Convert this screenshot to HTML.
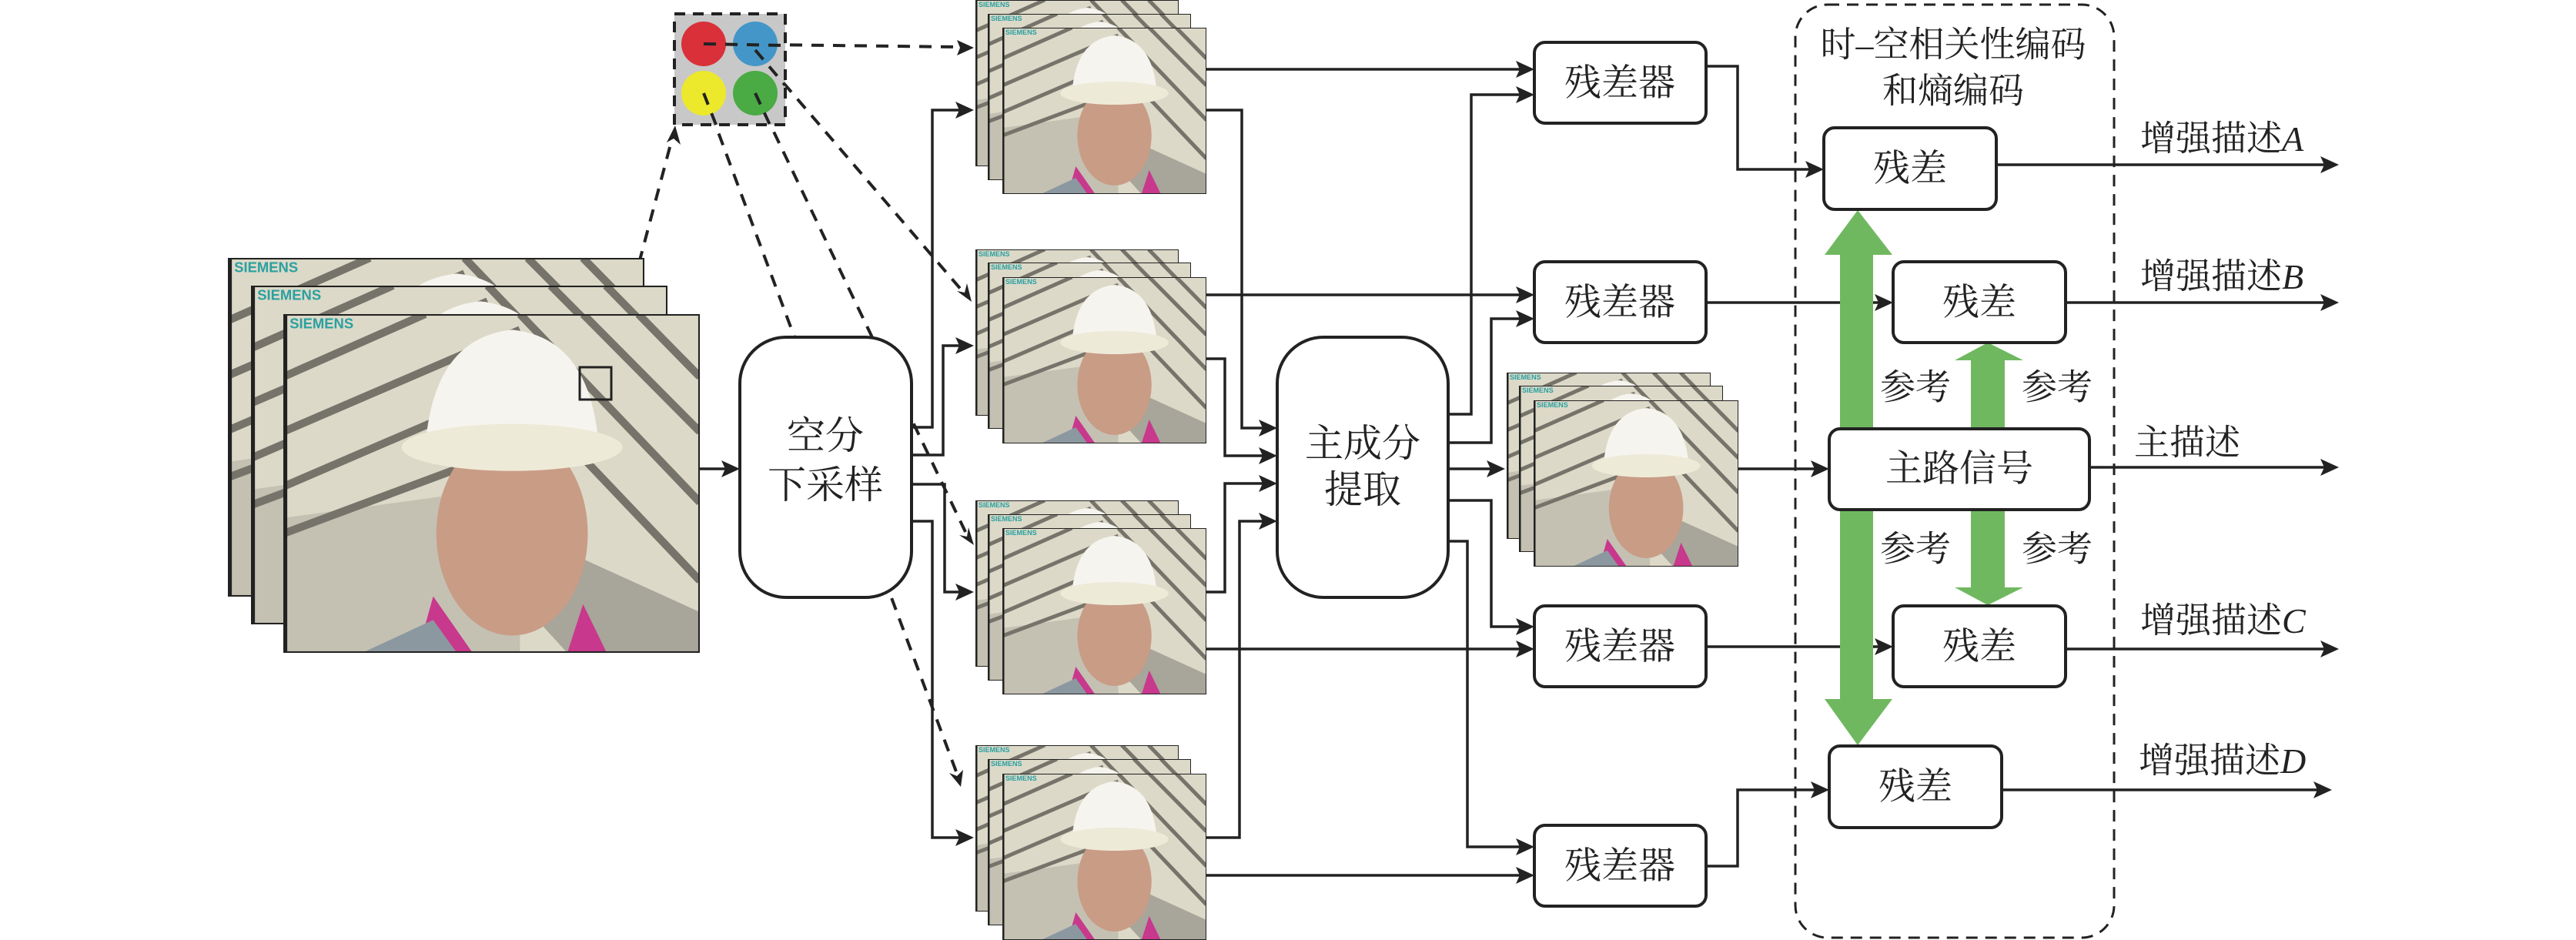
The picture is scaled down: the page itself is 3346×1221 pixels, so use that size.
<!DOCTYPE html>
<html><head><meta charset="utf-8"><style>
html,body{margin:0;padding:0;background:#fff;}
svg{display:block;}
text{font-family:"Liberation Serif","Noto Serif CJK SC",serif;fill:#222;}
</style></head><body>
<svg width="3346" height="1221" viewBox="0 0 3346 1221" xmlns="http://www.w3.org/2000/svg">
<defs>
<symbol id="fr" viewBox="0 0 264 216" preserveAspectRatio="none">
<rect x="0" y="0" width="264" height="216" fill="#dcd9c8"/>
<polygon points="0,130 0,216 150,216 150,150 110,115" fill="#c4c1b3"/>
<polygon points="100,115 264,190 264,216 180,216 120,150" fill="#a8a59a"/>
<g stroke="#76746a" stroke-width="5" fill="none">
<line x1="0" y1="40" x2="90" y2="0"/>
<line x1="0" y1="75" x2="150" y2="10"/>
<line x1="0" y1="110" x2="150" y2="45"/>
<line x1="0" y1="140" x2="120" y2="95"/>
<line x1="150" y1="0" x2="264" y2="120"/>
<line x1="190" y1="0" x2="264" y2="75"/>
<line x1="225" y1="0" x2="264" y2="40"/>
<line x1="160" y1="60" x2="264" y2="170"/>
</g>
<polygon points="95,180 120,216 85,216" fill="#c8388c"/>
<polygon points="190,185 180,216 205,216" fill="#c8388c"/>
<polygon points="50,216 95,195 110,216" fill="#8c98a0"/>
<ellipse cx="145" cy="140" rx="48" ry="65" fill="#c99c86"/>
<path d="M90,85 Q95,15 145,10 Q195,15 200,85 Z" fill="#f6f4ee"/>
<ellipse cx="145" cy="85" rx="70" ry="15" fill="#eeead8"/>
<text x="4" y="9" font-size="9" style="font-family:'Liberation Sans',sans-serif;fill:#2aa0a0;font-weight:bold">SIEMENS</text>
<rect x="0" y="0" width="264" height="216" fill="none" stroke="#222" stroke-width="2"/>
<line x1="1" y1="0" x2="1" y2="216" stroke="#222" stroke-width="3"/>
</symbol>
</defs>

<g stroke="#222" stroke-width="4" stroke-dasharray="16,12" fill="none">
<line x1="914" y1="57" x2="1245" y2="61"/>
<line x1="981" y1="65" x2="1250" y2="378"/>
<line x1="981" y1="121" x2="1256" y2="695"/>
<line x1="914" y1="121" x2="1243" y2="1005"/>
<line x1="794" y1="477" x2="873" y2="180"/>
</g>
<g fill="#222">
<polygon points="1265,62 1243,52 1247,62 1243,72"/>
<polygon points="1262,392 1243,378 1253,380 1256,368"/>
<polygon points="1265,708 1246,695 1256,697 1258,685"/>
<polygon points="1248,1022 1233,1004 1243,1008 1251,1000"/>
<polygon points="877,163 866,185 875,180 884,188"/>
</g>

<use href="#fr" x="296" y="335" width="541" height="440"/>
<use href="#fr" x="326" y="371" width="541" height="440"/>
<use href="#fr" x="368" y="408" width="541" height="440"/>
<rect x="753" y="477" width="41" height="42" fill="none" stroke="#222" stroke-width="3"/>

<rect x="876" y="18" width="144" height="144" fill="#c8c8c8"/>
<circle cx="914" cy="57" r="29" fill="#d9303a"/>
<circle cx="981" cy="57" r="29" fill="#4596c8"/>
<circle cx="914" cy="121" r="29" fill="#ece82c"/>
<circle cx="981" cy="121" r="29" fill="#4aaa44"/>
<rect x="876" y="18" width="144" height="144" fill="none" stroke="#222" stroke-width="4" stroke-dasharray="14,10"/>
<g stroke="#222" stroke-width="4" stroke-dasharray="16,12" fill="none">
<line x1="914" y1="57" x2="1020" y2="59"/>
<line x1="981" y1="65" x2="1020" y2="111"/>
<line x1="981" y1="121" x2="1000" y2="162"/>
<line x1="914" y1="121" x2="930" y2="162"/>
</g>

<g>
<use href="#fr" x="1267" y="0" width="264" height="216"/>
<use href="#fr" x="1283" y="18" width="264" height="216"/>
<use href="#fr" x="1302" y="36" width="265" height="216"/>
<use href="#fr" x="1267" y="324" width="264" height="216"/>
<use href="#fr" x="1283" y="341" width="264" height="216"/>
<use href="#fr" x="1302" y="360" width="265" height="216"/>
<use href="#fr" x="1267" y="650" width="264" height="216"/>
<use href="#fr" x="1283" y="668" width="264" height="216"/>
<use href="#fr" x="1302" y="686" width="265" height="216"/>
<use href="#fr" x="1267" y="968" width="264" height="216"/>
<use href="#fr" x="1283" y="986" width="264" height="216"/>
<use href="#fr" x="1302" y="1005" width="265" height="216"/>
<use href="#fr" x="1957" y="484" width="265" height="216"/>
<use href="#fr" x="1973" y="501" width="265" height="216"/>
<use href="#fr" x="1992" y="520" width="266" height="216"/>
</g>

<g stroke="#222" stroke-width="3.5" fill="none">
<line x1="909" y1="609" x2="945" y2="609"/>
<polyline points="1185,555 1211,555 1211,143 1248,143"/>
<polyline points="1185,591 1225,591 1225,449 1248,449"/>
<polyline points="1185,629 1227,629 1227,769 1248,769"/>
<polyline points="1185,677 1211,677 1211,1088 1248,1088"/>
<line x1="1567" y1="90" x2="1976" y2="90"/>
<line x1="1567" y1="383" x2="1976" y2="383"/>
<line x1="1567" y1="843" x2="1976" y2="843"/>
<line x1="1567" y1="1137" x2="1976" y2="1137"/>
<polyline points="1567,143 1613,143 1613,556 1642,556"/>
<polyline points="1567,466 1591,466 1591,592 1642,592"/>
<polyline points="1567,769 1591,769 1591,628 1642,628"/>
<polyline points="1567,1088 1610,1088 1610,677 1642,677"/>
<polyline points="1883,538 1911,538 1911,123 1976,123"/>
<polyline points="1883,575 1937,575 1937,414 1976,414"/>
<line x1="1883" y1="609" x2="1937" y2="609"/>
<polyline points="1883,650 1937,650 1937,814 1976,814"/>
<polyline points="1883,703 1906,703 1906,1100 1976,1100"/>
<polyline points="2216,86 2257,86 2257,220 2352,220"/>
<line x1="2216" y1="393" x2="2442" y2="393"/>
<line x1="2258" y1="609" x2="2359" y2="609"/>
<line x1="2216" y1="840" x2="2442" y2="840"/>
<polyline points="2216,1125 2257,1125 2257,1026 2359,1026"/>
<line x1="2593" y1="214" x2="3020" y2="214"/>
<line x1="2683" y1="393" x2="3020" y2="393"/>
<line x1="2714" y1="607" x2="3020" y2="607"/>
<line x1="2683" y1="843" x2="3020" y2="843"/>
<line x1="2600" y1="1026" x2="3011" y2="1026"/>
</g>
<g fill="#222">
<polygon points="961,609 937,598 942,609 937,620"/>
<polygon points="1265,143 1241,132 1246,143 1241,154"/>
<polygon points="1265,449 1241,438 1246,449 1241,460"/>
<polygon points="1265,769 1241,758 1246,769 1241,780"/>
<polygon points="1265,1088 1241,1077 1246,1088 1241,1099"/>
<polygon points="1659,556 1635,545 1640,556 1635,567"/>
<polygon points="1659,592 1635,581 1640,592 1635,603"/>
<polygon points="1659,628 1635,617 1640,628 1635,639"/>
<polygon points="1659,677 1635,666 1640,677 1635,688"/>
<polygon points="1993,90 1969,79 1974,90 1969,101"/>
<polygon points="1993,123 1969,112 1974,123 1969,134"/>
<polygon points="1993,383 1969,372 1974,383 1969,394"/>
<polygon points="1993,414 1969,403 1974,414 1969,425"/>
<polygon points="1993,814 1969,803 1974,814 1969,825"/>
<polygon points="1993,843 1969,832 1974,843 1969,854"/>
<polygon points="1993,1100 1969,1089 1974,1100 1969,1111"/>
<polygon points="1993,1137 1969,1126 1974,1137 1969,1148"/>
<polygon points="1955,609 1931,598 1936,609 1931,620"/>
<polygon points="2369,220 2345,209 2350,220 2345,231"/>
<polygon points="2459,393 2435,382 2440,393 2435,404"/>
<polygon points="2376,609 2352,598 2357,609 2352,620"/>
<polygon points="2459,840 2435,829 2440,840 2435,851"/>
<polygon points="2376,1026 2352,1015 2357,1026 2352,1037"/>
<polygon points="3038,214 3014,203 3019,214 3014,225"/>
<polygon points="3038,393 3014,382 3019,393 3014,404"/>
<polygon points="3038,607 3014,596 3019,607 3014,618"/>
<polygon points="3038,843 3014,832 3019,843 3014,854"/>
<polygon points="3029,1026 3005,1015 3010,1026 3005,1037"/>
</g>

<rect x="2332" y="6" width="414" height="1212" rx="42" ry="42" fill="none" stroke="#222" stroke-width="3" stroke-dasharray="15,10"/>

<g fill="#70b860">
<polygon points="2413,273 2458,331 2433,331 2433,908 2458,908 2413,968 2370,908 2390,908 2390,331 2370,331"/>
<polygon points="2582,445 2628,468 2604,468 2604,557 2560,557 2560,468 2539,468"/>
<polygon points="2582,786 2628,763 2604,763 2604,662 2560,662 2560,763 2539,763"/>
</g>

<g fill="#fff" stroke="#222" stroke-width="4">
<rect x="961" y="438" width="223" height="338" rx="60" ry="60"/>
<rect x="1659" y="438" width="222" height="338" rx="60" ry="60"/>
<rect x="1993" y="55" width="223" height="105" rx="14"/>
<rect x="1993" y="340" width="223" height="105" rx="14"/>
<rect x="1993" y="787" width="223" height="105" rx="14"/>
<rect x="1993" y="1072" width="223" height="105" rx="14"/>
<rect x="2369" y="166" width="224" height="106" rx="14"/>
<rect x="2459" y="340" width="224" height="105" rx="14"/>
<rect x="2376" y="557" width="338" height="105" rx="14"/>
<rect x="2459" y="787" width="224" height="105" rx="14"/>
<rect x="2376" y="969" width="224" height="106" rx="14"/>
</g>

<g font-size="50" text-anchor="middle" dominant-baseline="central">
<text x="1072" y="566">空分</text>
<text x="1072" y="630">下采样</text>
<text x="1770" y="576">主成分</text>
<text x="1770" y="636">提取</text>
<text x="2104" y="108" font-size="48">残差器</text>
<text x="2104" y="393" font-size="48">残差器</text>
<text x="2104" y="840" font-size="48">残差器</text>
<text x="2104" y="1125" font-size="48">残差器</text>
<text x="2481" y="219" font-size="48">残差</text>
<text x="2571" y="393" font-size="48">残差</text>
<text x="2545" y="609" font-size="48">主路信号</text>
<text x="2571" y="840" font-size="48">残差</text>
<text x="2488" y="1022" font-size="48">残差</text>
<text x="2537" y="58" font-size="46">时–空相关性编码</text>
<text x="2537" y="118" font-size="46">和熵编码</text>
<text x="2488" y="503" font-size="46">参考</text>
<text x="2672" y="503" font-size="46">参考</text>
<text x="2488" y="713" font-size="46">参考</text>
<text x="2672" y="713" font-size="46">参考</text>
</g>
<g font-size="46" dominant-baseline="central">
<text x="2780" y="180">增强描述<tspan font-style="italic">A</tspan></text>
<text x="2780" y="359">增强描述<tspan font-style="italic">B</tspan></text>
<text x="2772" y="575">主描述</text>
<text x="2780" y="806">增强描述<tspan font-style="italic">C</tspan></text>
<text x="2778" y="988">增强描述<tspan font-style="italic">D</tspan></text>
</g>
</svg>
</body></html>
